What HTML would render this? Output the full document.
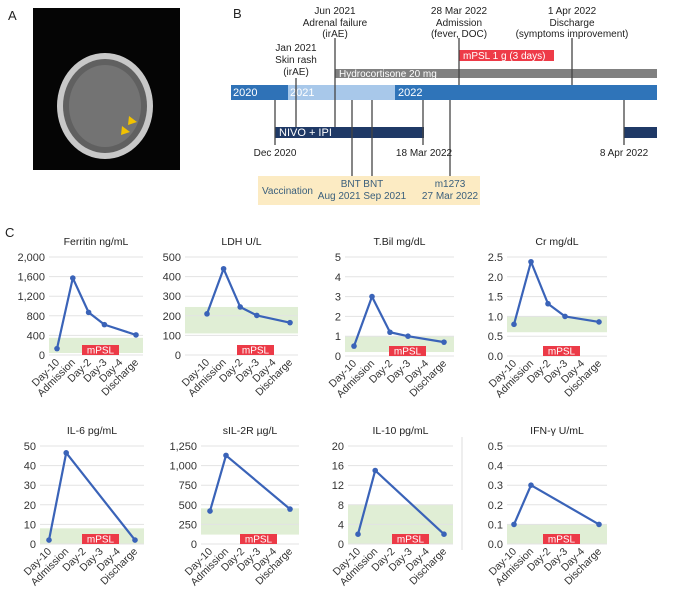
<!DOCTYPE html>
<html><head><meta charset="utf-8"><style>
body{margin:0;background:#fff;font-family:"Liberation Sans",sans-serif;}
svg text{font-family:"Liberation Sans",sans-serif;}
</style></head><body>
<svg id="fig" width="686" height="593" viewBox="0 0 686 593" xmlns="http://www.w3.org/2000/svg">
<g>
<text x="8" y="20" font-size="13" fill="#222">A</text>
<rect x="33" y="8" width="147" height="162" fill="#050505"/>
<ellipse cx="105" cy="106" rx="48" ry="53" fill="#c8c8c8"/>
<ellipse cx="105" cy="106" rx="42" ry="47" fill="#606060"/>
<ellipse cx="105" cy="106" rx="36" ry="41" fill="#737373"/>
<path d="M129 116 l8 6 l-9 3 z" fill="#f2c200"/>
<path d="M122 126 l8 6 l-9 3 z" fill="#f2c200"/>
</g>
<g font-size="10" fill="#222" text-anchor="middle">
<text x="233" y="18" font-size="13" text-anchor="start">B</text>
<rect x="459" y="50" width="95" height="11" fill="#ee3b48"/>
<text x="463" y="59" fill="#fff" text-anchor="start">mPSL 1 g (3 days)</text>
<rect x="335" y="69" width="322" height="9" fill="#808080"/>
<text x="339" y="77" fill="#fff" text-anchor="start">Hydrocortisone 20 mg</text>
<rect x="231" y="85" width="57" height="15" fill="#2f72b7"/>
<rect x="288" y="85" width="107" height="15" fill="#a8c8ea"/>
<rect x="395" y="85" width="262" height="15" fill="#2f74b9"/>
<text x="233" y="96" fill="#fff" text-anchor="start" font-size="11">2020</text>
<text x="290" y="96" fill="#fff" text-anchor="start" font-size="11">2021</text>
<text x="398" y="96" fill="#fff" text-anchor="start" font-size="11">2022</text>
<rect x="275" y="127" width="149" height="11" fill="#1f3966"/>
<text x="279" y="136" fill="#fff" text-anchor="start" font-size="11">NIVO + IPI</text>
<rect x="624" y="127" width="33" height="11" fill="#1f3966"/>
<rect x="258" y="176" width="222" height="29" fill="#fcebc3"/>
<g stroke="#444" stroke-width="1.3">
<line x1="296" y1="78" x2="296" y2="127"/>
<line x1="335" y1="38" x2="335" y2="127"/>
<line x1="459" y1="38" x2="459" y2="85"/>
<line x1="572" y1="38" x2="572" y2="85"/>
<line x1="275" y1="100" x2="275" y2="145"/>
<line x1="352" y1="100" x2="352" y2="176"/>
<line x1="372" y1="100" x2="372" y2="176"/>
<line x1="423" y1="100" x2="423" y2="145"/>
<line x1="450" y1="100" x2="450" y2="176"/>
<line x1="624" y1="100" x2="624" y2="145"/>
</g>
<text x="335" y="14">Jun 2021</text><text x="335" y="26">Adrenal failure</text><text x="335" y="37">(irAE)</text>
<text x="296" y="51">Jan 2021</text><text x="296" y="63">Skin rash</text><text x="296" y="75">(irAE)</text>
<text x="459" y="14">28 Mar 2022</text><text x="459" y="26">Admission</text><text x="459" y="37">(fever, DOC)</text>
<text x="572" y="14">1 Apr 2022</text><text x="572" y="26">Discharge</text><text x="572" y="37">(symptoms improvement)</text>
<text x="275" y="156">Dec 2020</text><text x="424" y="156">18 Mar 2022</text><text x="624" y="156">8 Apr 2022</text>
<text x="262" y="194" text-anchor="start" fill="#3a5f7c">Vaccination</text>
<text x="362" y="187" fill="#3a5f7c">BNT BNT</text><text x="362" y="199" fill="#3a5f7c">Aug 2021 Sep 2021</text>
<text x="450" y="187" fill="#3a5f7c">m1273</text><text x="450" y="199" fill="#3a5f7c">27 Mar 2022</text>
</g>
<text x="5" y="237" font-size="13" fill="#222">C</text>
<line x1="462" y1="437" x2="462" y2="550" stroke="#ddd"/>
<g id="charts"></g>
</svg>
<script>
const categories=["Day-10","Admission","Day-2","Day-3","Day-4","Discharge"];
const titles=["Ferritin ng/mL","LDH U/L","T.Bil mg/dL","Cr mg/dL","IL-6 pg/mL","sIL-2R µg/L","IL-10 pg/mL","IFN-γ U/mL"];
const ferritinIdx=[0,1,2,3,5];const ferritinVals=[130,1570,870,620,410];
const ldhIdx=[0,1,2,3,5];const ldhVals=[210,440,245,202,165];
const tbilIdx=[0,1,2,3,5];const tbilVals=[0.5,3.0,1.2,1.0,0.7];
const crIdx=[0,1,2,3,5];const crVals=[0.8,2.38,1.32,1.0,0.86];
const il6Idx=[0,1,5];const il6Vals=[2,46.5,2];
const sil2rIdx=[0,1,5];const sil2rVals=[420,1130,445];
const il10Idx=[0,1,5];const il10Vals=[2,15,2];
const ifnIdx=[0,1,5];const ifnVals=[0.1,0.3,0.1];
const ferritinTicks=["0","400","800","1,200","1,600","2,000"];const ferritinMax=2000;const ferritinRange=[40,350];
const ldhTicks=["0","100","200","300","400","500"];const ldhMax=500;const ldhRange=[110,245];
const tbilTicks=["0","1","2","3","4","5"];const tbilMax=5;const tbilRange=[0.2,1.0];
const crTicks=["0.0","0.5","1.0","1.5","2.0","2.5"];const crMax=2.5;const crRange=[0.6,1.0];
const il6Ticks=["0","10","20","30","40","50"];const il6Max=50;const il6Range=[0,8];
const sil2rTicks=["0","250","500","750","1,000","1,250"];const sil2rMax=1250;const sil2rRange=[120,455];
const il10Ticks=["0","4","8","12","16","20"];const il10Max=20;const il10Range=[0,8];
const ifnTicks=["0.0","0.1","0.2","0.3","0.4","0.5"];const ifnMax=0.5;const ifnRange=[0,0.1];

const layouts=[
 {bx0:49,bx1:143,x0:57,dx:15.8,top:257,bot:355,m:82},
 {bx0:185,bx1:298,x0:207,dx:16.6,top:257,bot:355,m:237},
 {bx0:345,bx1:454,x0:354,dx:18,top:257,bot:356,m:389},
 {bx0:507,bx1:607,x0:514,dx:17,top:257,bot:356,m:543},
 {bx0:40,bx1:144,x0:49,dx:17.2,top:446,bot:544,m:82},
 {bx0:201,bx1:299,x0:210,dx:16,top:446,bot:544,m:240},
 {bx0:348,bx1:453,x0:358,dx:17.2,top:446,bot:544,m:392},
 {bx0:507,bx1:607,x0:514,dx:17,top:446,bot:544,m:543}];
const series=[[ferritinIdx,ferritinVals,ferritinTicks,ferritinMax,ferritinRange],[ldhIdx,ldhVals,ldhTicks,ldhMax,ldhRange],
[tbilIdx,tbilVals,tbilTicks,tbilMax,tbilRange],[crIdx,crVals,crTicks,crMax,crRange],
[il6Idx,il6Vals,il6Ticks,il6Max,il6Range],[sil2rIdx,sil2rVals,sil2rTicks,sil2rMax,sil2rRange],
[il10Idx,il10Vals,il10Ticks,il10Max,il10Range],[ifnIdx,ifnVals,ifnTicks,ifnMax,ifnRange]];
const NS="http://www.w3.org/2000/svg";
const root=document.getElementById("charts");
function mk(tag,attrs,parent){const e=document.createElementNS(NS,tag);for(const k in attrs)e.setAttribute(k,attrs[k]);parent.appendChild(e);return e;}
series.forEach((s,ci)=>{
 const L=layouts[ci];const [idx,vals,ticks,max,rng]=s;
 const y=v=>L.bot-(v/max)*(L.bot-L.top);
 const x=i=>L.x0+i*L.dx;
 const g=mk("g",{},root);
 
 
 const t=mk("text",{x:(L.bx0+L.bx1)/2,y:L.top-12,"font-size":"10.5","text-anchor":"middle",fill:"#222"},g);
 t.textContent=titles[ci];
 
 
 const band=mk("rect",{x:L.bx0,y:y(rng[1]),width:L.bx1-L.bx0,height:y(rng[0])-y(rng[1]),fill:"#e0eed5"},g);
 
 
 ticks.forEach((tk,i)=>{const v=max*i/(ticks.length-1);
  mk("line",{x1:L.bx0,x2:L.bx1,y1:y(v),y2:y(v),stroke:"#e3e3e3","stroke-width":"1"},g);
  const tl=mk("text",{x:L.bx0-4,y:y(v)+4,"font-size":"11","text-anchor":"end",fill:"#333"},g);
  tl.textContent=tk;
  
  
 });
 const mr=mk("rect",{x:L.m,y:L.bot-10,width:37,height:10,fill:"#ec3a47"},g);
 
 
 const mt=mk("text",{x:L.m+18.5,y:L.bot-1.5,"font-size":"10","text-anchor":"middle",fill:"#fff"},g);
 mt.textContent="mPSL";
 categories.forEach((c,i)=>{
  const xl=mk("text",{x:x(i)+3,y:L.bot+8,"font-size":"10.5","text-anchor":"end",fill:"#333",transform:`rotate(-45 ${x(i)+3} ${L.bot+8})`},g);
  xl.textContent=c;
  
  
 });
 const pts=idx.map((i,k)=>x(i)+","+y(vals[k])).join(" ");
 const pl=mk("polyline",{points:pts,fill:"none",stroke:"#3a63b8","stroke-width":"2.2","stroke-linejoin":"round"},g);
 
 
 idx.forEach((i,k)=>{
  const c=mk("circle",{cx:x(i),cy:y(vals[k]),r:2.8,fill:"#3a63b8"},g);
  
  
 });
});
</script>
</body></html>
